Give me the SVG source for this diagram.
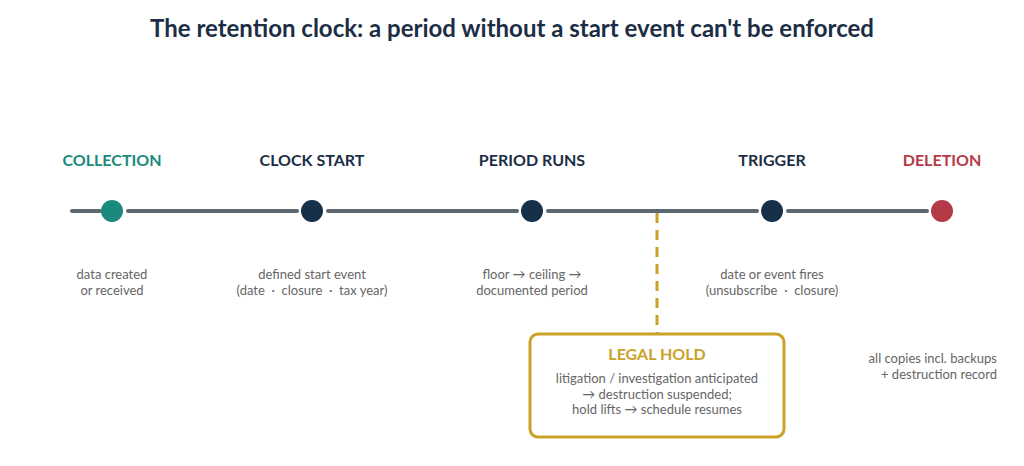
<svg xmlns="http://www.w3.org/2000/svg" width="1024" height="466" viewBox="0 0 1024 466">
<style>
text{font-family:Lato,"Open Sans","Liberation Sans",sans-serif;text-anchor:middle}
.t{font-size:24px;font-weight:bold;fill:#1c2e45}
.h{font-size:16px;font-weight:bold}
.d{font-size:13px;fill:#666}
.ln{stroke:#5d6770;stroke-width:4;stroke-linecap:round}
</style>
<rect width="1024" height="466" fill="#fff"/>
<text class="t" x="512" y="37">The retention clock: a period without a start event can't be enforced</text>
<g id="connectors">
<line class="ln" x1="72" y1="211" x2="100" y2="211"/>
<line class="ln" x1="128" y1="211" x2="297" y2="211"/>
<line class="ln" x1="328" y1="211" x2="517" y2="211"/>
<line class="ln" x1="548" y1="211" x2="757" y2="211"/>
<line class="ln" x1="788" y1="211" x2="927" y2="211"/>
<line x1="657" y1="213" x2="657" y2="334" stroke="#c9a227" stroke-width="3" stroke-dasharray="10,7"/>
</g>
<g id="collection"><circle cx="112" cy="211" r="11" fill="#1a8a7c"/><text class="h" x="112" y="166" fill="#1a8a7c">COLLECTION</text><text class="d" x="112" y="279">data created</text><text class="d" x="112" y="295">or received</text></g>
<g id="clockstart"><circle cx="312" cy="211" r="11" fill="#16304a"/><text class="h" x="312" y="166" fill="#1c2e45">CLOCK START</text><text class="d" x="312" y="279">defined start event</text><text class="d" x="312" y="295" xml:space="preserve">(date  ·  closure  ·  tax year)</text></g>
<g id="periodruns"><circle cx="532" cy="211" r="11" fill="#16304a"/><text class="h" x="532" y="166" fill="#1c2e45">PERIOD RUNS</text><text class="d" x="532" y="279">floor → ceiling →</text><text class="d" x="532" y="295">documented period</text></g>
<g id="trigger"><circle cx="772" cy="211" r="11" fill="#16304a"/><text class="h" x="772" y="166" fill="#1c2e45">TRIGGER</text><text class="d" x="772" y="279">date or event fires</text><text class="d" x="772" y="295" xml:space="preserve">(unsubscribe  ·  closure)</text></g>
<g id="deletion"><circle cx="942" cy="211" r="11" fill="#b53a48"/><text class="h" x="942" y="166" fill="#b53a48">DELETION</text><text class="d" x="997" y="363" text-anchor="end" style="text-anchor:end">all copies incl. backups</text><text class="d" x="997" y="379" style="text-anchor:end">+ destruction record</text></g>
<g id="legalhold"><rect x="530" y="334" width="254" height="103" rx="8" fill="#fff" stroke="#c9a227" stroke-width="3"/><text class="h" x="657" y="360" fill="#c9a227">LEGAL HOLD</text><text class="d" x="657" y="383">litigation / investigation anticipated</text><text class="d" x="657" y="399">→ destruction suspended;</text><text class="d" x="657" y="414">hold lifts → schedule resumes</text></g>
</svg>
